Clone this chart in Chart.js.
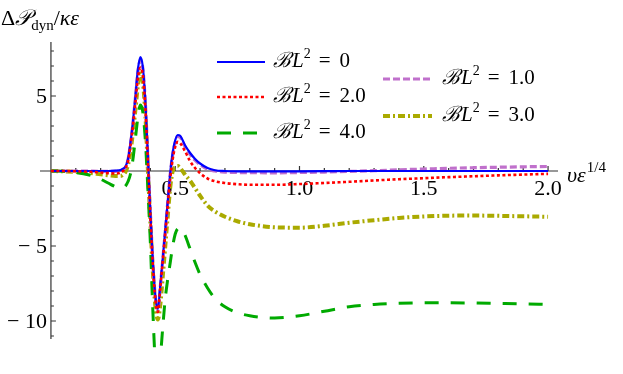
<!DOCTYPE html>
<html>
<head>
<meta charset="utf-8">
<script src="https://cdn.jsdelivr.net/npm/chart.js@4"></script>
<style>
  html, body { margin: 0; padding: 0; background: #fff; }
</style>
</head>
<body>
<canvas id="chart" width="623" height="374"></canvas>
<script>
// x values (v * eps^(1/4)), shared by every curve
const xs = [0, 0.05, 0.1, 0.15, 0.2, 0.23, 0.26, 0.28,
  0.29, 0.30, 0.31, 0.32, 0.33, 0.34, 0.35, 0.36, 0.37, 0.38, 0.39, 0.40, 0.41, 0.42, 0.43,
  0.44, 0.45, 0.46, 0.47, 0.48, 0.49, 0.50, 0.51, 0.52, 0.53, 0.54,
  0.56, 0.58, 0.60, 0.63, 0.66, 0.70, 0.75, 0.8,
  0.9, 1.0, 1.1, 1.2, 1.3, 1.4, 1.5, 1.6, 1.7, 1.8, 1.9, 2.0];

// BL^2 = 0
const bl0 = [0, 0, 0, 0, 0, 0, 0.02, 0.06,
  0.15, 0.3, 0.8, 1.9, 3.3, 5.0, 6.8, 7.6, 6.9, 4.6, 1.0, -2.8, -6.0, -8.3, -9.2,
  -7.6, -5.8, -3.9, -2.0, -0.1, 1.25, 2.05, 2.4, 2.35, 2.05, 1.7,
  1.2, 0.8, 0.5, 0.2, 0.05, 0, -0.02, -0.03,
  -0.03, -0.02, -0.01, 0, 0, 0, 0, 0, 0, 0, 0, 0];
// BL^2 = 1.0
const bl1 = [0, 0, 0, -0.01, -0.02, -0.03, -0.02, 0.02,
  0.1, 0.25, 0.75, 1.8, 3.2, 4.9, 6.6, 7.4, 6.8, 4.5, 0.9, -2.9, -6.1, -8.4, -9.3,
  -7.7, -5.9, -4.0, -2.1, -0.2, 1.1, 1.9, 2.3, 2.25, 1.95, 1.6,
  1.1, 0.72, 0.42, 0.12, 0.0, -0.07, -0.1, -0.11,
  -0.12, -0.1, -0.07, -0.03, 0.02, 0.08, 0.13, 0.18, 0.22, 0.25, 0.28, 0.3];
// BL^2 = 2.0
const bl2 = [0, 0, -0.02, -0.05, -0.1, -0.14, -0.17, -0.12,
  0.0, 0.2, 0.65, 1.7, 3.0, 4.6, 6.2, 6.9, 6.3, 4.1, 0.6, -3.1, -6.3, -8.6, -9.4,
  -7.8, -6.0, -4.2, -2.3, -0.5, 0.8, 1.6, 1.95, 1.85, 1.6, 1.3,
  0.65, 0.2, -0.15, -0.5, -0.68, -0.8, -0.88, -0.92,
  -0.92, -0.87, -0.8, -0.72, -0.63, -0.55, -0.48, -0.41, -0.35, -0.29, -0.24, -0.19];
// BL^2 = 3.0
const bl3 = [0, -0.02, -0.06, -0.12, -0.22, -0.28, -0.33, -0.33,
  -0.25, -0.05, 0.4, 1.3, 2.6, 4.1, 5.7, 6.5, 5.9, 3.7, 0.1, -3.4, -6.7, -9.0, -9.9,
  -8.9, -7.0, -5.0, -3.0, -1.1, 0.0, 0.25, 0.33, 0.2, -0.02, -0.25,
  -0.65, -1.15, -1.65, -2.3, -2.7, -3.05, -3.35, -3.55,
  -3.75, -3.78, -3.65, -3.45, -3.28, -3.13, -3.03, -2.98, -2.97, -2.99, -3.02, -3.05];
// BL^2 = 4.0
const bl4 = [0, -0.02, -0.1, -0.25, -0.55, -0.8, -1.05, -1.15,
  -1.1, -1.0, -0.7, -0.2, 0.8, 2.2, 3.6, 4.4, 3.9, 2.0, -1.2, -4.8, -9.3, -12.8, -13.8,
  -12.5, -10.4, -8.5, -7.2, -6.1, -5.0, -4.2, -3.85, -3.8, -3.95, -4.3,
  -5.2, -6.1, -6.9, -7.8, -8.5, -9.05, -9.45, -9.65,
  -9.8, -9.65, -9.35, -9.05, -8.9, -8.82, -8.79, -8.79, -8.8, -8.83, -8.86, -8.9];

const seriesValues = ['0', '1.0', '2.0', '3.0', '4.0'];
const xTicks = [0.5, 1.0, 1.5, 2.0];
const xTickLabels = ['0.5', '1.0', '1.5', '2.0'];
const yTicks = [5, -5, -10];
const yTickLabels = ['5', '\u2212 5', '\u2212 10'];

const serif = '"Liberation Serif", "DejaVu Serif", serif';

function pts(ys) {
  return xs.map((x, i) => ({ x: x, y: ys[i] }));
}

function line(label, ys, color, width, dash) {
  return {
    label: label,
    data: pts(ys),
    borderColor: color,
    backgroundColor: color,
    borderWidth: width,
    borderDash: dash,
    pointRadius: 0,
    fill: false,
    cubicInterpolationMode: 'monotone'
  };
}

// first dataset is drawn on top
const dsRed = line(seriesValues[2], bl2, '#ff0000', 2.6, [3, 2.5]);
const dsBlue = line(seriesValues[0], bl0, '#0000ff', 2.2, []);
const dsGreen = line(seriesValues[4], bl4, '#00aa00', 3, [14, 12]);
const dsPurple = line(seriesValues[1], bl1, '#c070cc', 3.2, [7, 3]);
const dsOlive = line(seriesValues[3], bl3, '#aaaa00', 4, [7, 3, 2, 3]);

// draws a run of text pieces: [text, font, dy, gapAfter]
function drawRich(ctx, parts, x, y) {
  ctx.textAlign = 'left';
  ctx.textBaseline = 'alphabetic';
  parts.forEach(p => {
    ctx.font = p[1];
    ctx.fillText(p[0], x, y + (p[2] || 0));
    x += ctx.measureText(p[0]).width + (p[3] || 0);
  });
  return x;
}

const axesPlugin = {
  id: 'axesPlugin',
  beforeDatasetsDraw(chart) {
    const ctx = chart.ctx;
    const sx = chart.scales.x, sy = chart.scales.y;
    const x0 = sx.getPixelForValue(0), y0 = sy.getPixelForValue(0);
    ctx.save();
    ctx.strokeStyle = '#333';
    ctx.lineWidth = 1.2;
    ctx.beginPath();
    ctx.moveTo(chart.chartArea.left, y0);
    ctx.lineTo(chart.chartArea.right, y0);
    ctx.moveTo(x0, chart.chartArea.top);
    ctx.lineTo(x0, sy.getPixelForValue(-11.2));
    // y ticks, pointing right
    for (let v = -11; v <= 8; v++) {
      const py = sy.getPixelForValue(v);
      ctx.moveTo(x0, py);
      ctx.lineTo(x0 + (v % 5 === 0 ? 5 : 3), py);
    }
    // x ticks, pointing up
    for (let k = 1; k <= 20; k++) {
      const px = sx.getPixelForValue(k / 10);
      ctx.moveTo(px, y0);
      ctx.lineTo(px, y0 - (k % 5 === 0 ? 5 : 3));
    }
    ctx.stroke();

    ctx.fillStyle = '#000';
    ctx.font = '22px ' + serif;
    ctx.textAlign = 'center';
    ctx.textBaseline = 'alphabetic';
    xTicks.forEach((v, i) => {
      ctx.fillText(xTickLabels[i], sx.getPixelForValue(v), y0 + 24);
    });
    ctx.textAlign = 'right';
    ctx.textBaseline = 'middle';
    yTicks.forEach((v, i) => {
      ctx.fillText(yTickLabels[i], x0 - 4, sy.getPixelForValue(v) + 1);
    });
    ctx.restore();
  }
};

const textPlugin = {
  id: 'textPlugin',
  afterDraw(chart) {
    const ctx = chart.ctx;
    ctx.save();
    ctx.fillStyle = '#000';
    // y-axis title
    drawRich(ctx, [
      ['\u0394', '22px ' + serif],
      ['\ud835\udcab', 'italic 22px ' + serif],
      ['dyn', '15px ' + serif, 5],
      ['/', '22px ' + serif],
      ['\u03ba\u03b5', 'italic 22px ' + serif]
    ], 1, 25);
    // x-axis title
    drawRich(ctx, [
      ['\u03c5\u03b5', 'italic 22px ' + serif, 0, 1],
      ['1/4', '15px ' + serif, -10]
    ], 567, 182);

    // legend
    const entries = [
      [dsBlue, 217, 265, 62, 273],
      [dsRed, 217, 265, 97, 273],
      [dsGreen, 217, 265, 133, 273],
      [dsPurple, 383, 432, 79, 442],
      [dsOlive, 383, 432, 116, 442]
    ];
    entries.forEach(e => {
      const ds = e[0];
      ctx.strokeStyle = ds.borderColor;
      ctx.lineWidth = ds.borderWidth;
      ctx.setLineDash(ds.borderDash);
      ctx.beginPath();
      ctx.moveTo(e[1], e[3]);
      ctx.lineTo(e[2], e[3]);
      ctx.stroke();
      ctx.setLineDash([]);
      drawRich(ctx, [
        ['\u212c', 'italic 21px ' + serif, 0, 1],
        ['L', 'italic 21px ' + serif],
        ['2', '14px ' + serif, -9, 8],
        ['=', '21px ' + serif, 0, 9],
        [ds.label, '21px ' + serif]
      ], e[4], e[3] + 5);
    });
    ctx.restore();
  }
};

new Chart(document.getElementById('chart'), {
  type: 'line',
  data: { datasets: [dsRed, dsBlue, dsGreen, dsPurple, dsOlive] },
  options: {
    responsive: false,
    animation: false,
    layout: { padding: { left: 40, right: 65, top: 42, bottom: 26 } },
    scales: {
      x: { type: 'linear', min: -0.044, max: 2.04, display: false },
      y: { type: 'linear', min: -11.8, max: 8.6, display: false }
    },
    plugins: { legend: { display: false }, tooltip: { enabled: false } }
  },
  plugins: [axesPlugin, textPlugin]
});
</script>
</body>
</html>
